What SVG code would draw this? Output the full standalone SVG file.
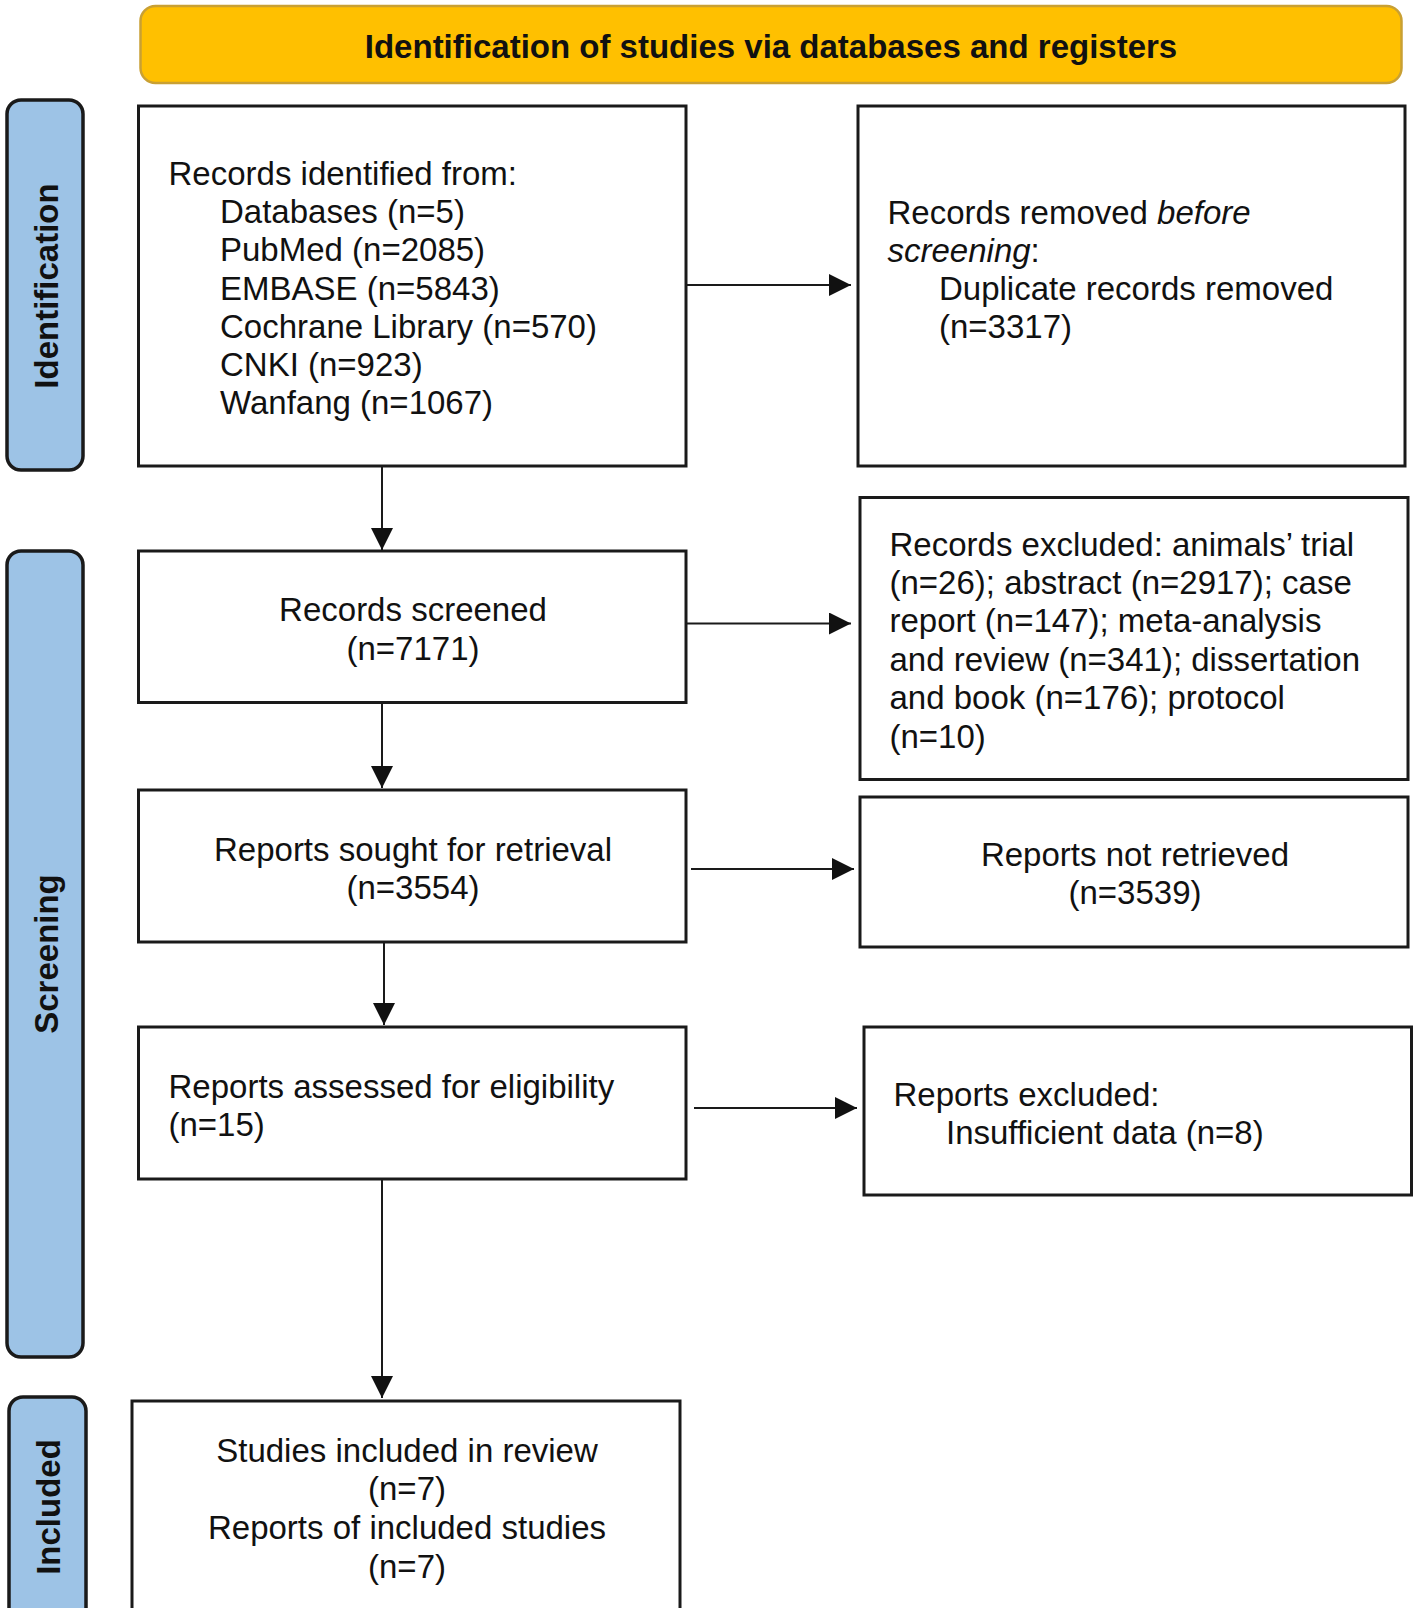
<svg xmlns="http://www.w3.org/2000/svg" width="1416" height="1608" viewBox="0 0 1416 1608">
<defs>
<style>
.box{fill:#fff;stroke:#1a1a1a;stroke-width:3}
.bar{fill:#9dc3e6;stroke:#1a1a1a;stroke-width:3.5}
.hdr{fill:#ffc000;stroke:#c9a033;stroke-width:2.5}
.t{font-family:"Liberation Sans",Arial,sans-serif;font-size:33px;fill:#111}
.b{font-family:"Liberation Sans",Arial,sans-serif;font-size:33px;font-weight:bold;fill:#111}
.c{text-anchor:middle}
.ln{stroke:#1a1a1a;stroke-width:2;fill:none}
</style>
<marker id="ah" viewBox="0 0 22 22" refX="22" refY="11" markerWidth="22" markerHeight="22" markerUnits="userSpaceOnUse" orient="auto">
<path d="M0,0 L22,11 L0,22 Z" fill="#111"/>
</marker>
</defs>
<rect width="1416" height="1608" fill="#fff"/>

<g id="header">
<rect class="hdr" x="140.5" y="6" width="1261" height="77" rx="15"/>
<text class="b c" x="771" y="58">Identification of studies via databases and registers</text>
</g>

<g id="bar-identification">
<rect class="bar" x="7" y="100" width="76" height="370" rx="14"/>
<text class="b c" transform="translate(58,286) rotate(-90)">Identification</text>
</g>
<g id="bar-screening">
<rect class="bar" x="7" y="551" width="76" height="806" rx="14"/>
<text class="b c" transform="translate(58,954) rotate(-90)">Screening</text>
</g>
<g id="bar-included">
<rect class="bar" x="9" y="1397" width="77" height="260" rx="14"/>
<text class="b c" transform="translate(60,1507) rotate(-90)">Included</text>
</g>

<g id="records-identified">
<rect class="box" x="138.5" y="106" width="547.5" height="360"/>
<text class="t" x="168.5" y="185">Records identified from:</text>
<text class="t" x="220" y="223.2">Databases (n=5)</text>
<text class="t" x="220" y="261.4">PubMed (n=2085)</text>
<text class="t" x="220" y="299.6">EMBASE (n=5843)</text>
<text class="t" x="220" y="337.8">Cochrane Library (n=570)</text>
<text class="t" x="220" y="376">CNKI (n=923)</text>
<text class="t" x="220" y="414.2">Wanfang (n=1067)</text>
</g>

<g id="records-removed">
<rect class="box" x="858" y="106" width="547" height="360"/>
<text class="t" x="887.5" y="224">Records removed <tspan font-style="italic">before</tspan></text>
<text class="t" x="887.5" y="262"><tspan font-style="italic">screening</tspan>:</text>
<text class="t" x="939" y="300">Duplicate records removed</text>
<text class="t" x="939" y="338">(n=3317)</text>
</g>

<g id="records-screened">
<rect class="box" x="138.5" y="551" width="547.5" height="151.5"/>
<text class="t c" x="413" y="621">Records screened</text>
<text class="t c" x="413" y="660">(n=7171)</text>
</g>

<g id="records-excluded">
<rect class="box" x="860" y="497.5" width="548" height="282"/>
<text class="t" x="889.5" y="555.5">Records excluded: animals’ trial</text>
<text class="t" x="889.5" y="593.9">(n=26); abstract (n=2917); case</text>
<text class="t" x="889.5" y="632.3">report (n=147); meta-analysis</text>
<text class="t" x="889.5" y="670.7">and review (n=341); dissertation</text>
<text class="t" x="889.5" y="709.1">and book (n=176); protocol</text>
<text class="t" x="889.5" y="747.5">(n=10)</text>
</g>

<g id="reports-sought">
<rect class="box" x="138.5" y="790" width="547.5" height="152"/>
<text class="t c" x="413" y="860.5">Reports sought for retrieval</text>
<text class="t c" x="413" y="898.5">(n=3554)</text>
</g>

<g id="reports-not-retrieved">
<rect class="box" x="860" y="797" width="548" height="150"/>
<text class="t c" x="1135" y="865.5">Reports not retrieved</text>
<text class="t c" x="1135" y="903.5">(n=3539)</text>
</g>

<g id="reports-assessed">
<rect class="box" x="138.5" y="1027" width="547.5" height="152"/>
<text class="t" x="168.5" y="1097.5">Reports assessed for eligibility</text>
<text class="t" x="168.5" y="1135.5">(n=15)</text>
</g>

<g id="reports-excluded">
<rect class="box" x="864" y="1027" width="547.5" height="168"/>
<text class="t" x="893.5" y="1106">Reports excluded:</text>
<text class="t" x="946" y="1144">Insufficient data (n=8)</text>
</g>

<g id="studies-included">
<rect class="box" x="132" y="1401" width="548" height="260"/>
<text class="t c" x="407" y="1462">Studies included in review</text>
<text class="t c" x="407" y="1500.2">(n=7)</text>
<text class="t c" x="407" y="1539">Reports of included studies</text>
<text class="t c" x="407" y="1578">(n=7)</text>
</g>

<g id="connectors">
<line class="ln" x1="382" y1="466" x2="382" y2="550" marker-end="url(#ah)"/>
<line class="ln" x1="382" y1="702.5" x2="382" y2="788" marker-end="url(#ah)"/>
<line class="ln" x1="384" y1="942" x2="384" y2="1025" marker-end="url(#ah)"/>
<line class="ln" x1="382" y1="1179" x2="382" y2="1398" marker-end="url(#ah)"/>
<line class="ln" x1="686" y1="285" x2="851" y2="285" marker-end="url(#ah)"/>
<line class="ln" x1="686" y1="623.5" x2="851" y2="623.5" marker-end="url(#ah)"/>
<line class="ln" x1="691" y1="869" x2="854" y2="869" marker-end="url(#ah)"/>
<line class="ln" x1="694" y1="1108" x2="857" y2="1108" marker-end="url(#ah)"/>
</g>
</svg>
